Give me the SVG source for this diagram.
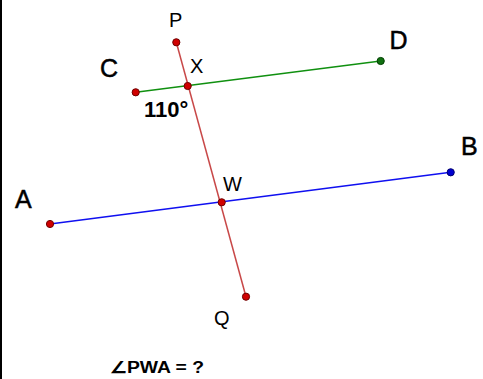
<svg xmlns="http://www.w3.org/2000/svg" width="483" height="379" viewBox="0 0 483 379">
<style>
text{font-family:"Liberation Sans",Arial,sans-serif;fill:#000}
.big{font-size:25px;stroke:#000;stroke-width:0.5}
.sm{font-size:20px}
.pt{stroke-width:1}
</style>
<rect width="483" height="379" fill="#fff"/>
<rect x="0" y="0" width="2" height="379" fill="#000"/>
<g id="connectors" fill="none" stroke-width="1.5">
<line id="line-PQ" x1="176.3" y1="42.3" x2="246" y2="296.7" stroke="#c84848"/>
<line id="line-CD" x1="135.7" y1="92.3" x2="380.7" y2="61" stroke="#109010"/>
<line id="line-AB" x1="50" y1="224" x2="450.7" y2="172.3" stroke="#1010f0"/>
</g>
<g id="P"><circle class="pt" cx="176.3" cy="42.3" r="3.6" fill="#d00000" stroke="#700000"/><text class="sm" x="169" y="27.3">P</text></g>
<g id="X"><circle class="pt" cx="187.7" cy="86" r="3.6" fill="#d00000" stroke="#700000"/><text class="sm" x="190" y="72.7">X</text></g>
<g id="W"><circle class="pt" cx="221.7" cy="202.3" r="3.6" fill="#d00000" stroke="#700000"/><text class="sm" x="223" y="190.5">W</text></g>
<g id="Q"><circle class="pt" cx="246" cy="296.7" r="3.6" fill="#d00000" stroke="#700000"/><text class="sm" x="214" y="325">Q</text></g>
<g id="C"><circle class="pt" cx="135.7" cy="92.3" r="3.6" fill="#d00000" stroke="#700000"/><text class="big" x="100" y="76.5">C</text></g>
<g id="D"><circle class="pt" cx="380.7" cy="61" r="3.6" fill="#107010" stroke="#004000"/><text class="big" x="389.5" y="48.5">D</text></g>
<g id="A"><circle class="pt" cx="50" cy="224" r="3.6" fill="#d00000" stroke="#700000"/><text class="big" x="15" y="207.5">A</text></g>
<g id="B"><circle class="pt" cx="450.7" cy="172.3" r="3.6" fill="#0000d0" stroke="#000070"/><text class="big" x="461" y="155">B</text></g>
<g id="angle-label"><text x="144" y="117" font-size="22" font-weight="bold">110°</text></g>
<g id="question"><text x="110" y="372.5" font-size="16" font-weight="bold" textLength="94" lengthAdjust="spacingAndGlyphs">∠PWA = ?</text></g>
</svg>
